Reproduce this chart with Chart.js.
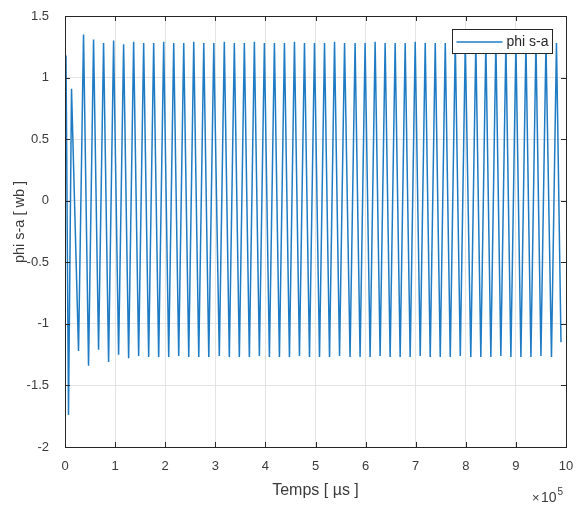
<!DOCTYPE html>
<html><head><meta charset="utf-8">
<script src="https://cdn.jsdelivr.net/npm/chart.js@4/dist/chart.umd.min.js"></script>
<style>html,body{margin:0;padding:0;background:#fff}#wrap{width:576px;height:506px}</style>
</head><body><div id="wrap"><canvas id="c" width="576" height="506"></canvas></div>
<script>
// ---- data (x in units of 1e5 µs, y in Wb) ----
const seriesLabel = 'phi s-a';
const xTitle = 'Temps [ \u00b5s ]';
const yTitle = 'phi s-a [ wb ]';
const xExponentSign = '\u00d7';
const xExponentBase = '10';
const xExponent = '5';
const xTickValues = [0,1,2,3,4,5,6,7,8,9,10];
const xTickLabels = ['0','1','2','3','4','5','6','7','8','9','10'];
const yTickValues = [-2,-1.5,-1,-0.5,0,0.5,1,1.5];
const yTickLabels = ['-2','-1.5','-1','-0.5','0','0.5','1','1.5'];

// start-up transient
const startTimes  = [0, 0.02, 0.07, 0.13];
const startValues = [0, 1.18, -1.74, 0.91];

// troughs and peaks of the steady oscillation
const troughTimes = [
 0.27,0.47,0.67,0.87,1.07,1.27,1.47,1.67,1.87,2.07,2.27,2.47,
 2.67,2.87,3.08,3.28,3.48,3.68,3.88,4.08,4.28,4.48,4.68,4.88,
 5.08,5.28,5.48,5.69,5.89,6.09,6.29,6.49,6.69,6.89,7.09,7.29,
 7.49,7.69,7.89,8.10,8.30,8.50,8.70,8.90,9.10,9.30,9.50,9.71];
const troughValues = [
 -1.22,-1.34,-1.21,-1.31,-1.25,-1.28,-1.26,-1.27,-1.27,-1.27,-1.26,-1.27,
 -1.27,-1.27,-1.26,-1.27,-1.27,-1.27,-1.26,-1.27,-1.27,-1.27,-1.26,-1.27,
 -1.27,-1.27,-1.26,-1.27,-1.27,-1.27,-1.26,-1.27,-1.27,-1.27,-1.26,-1.27,
 -1.27,-1.27,-1.26,-1.27,-1.27,-1.27,-1.26,-1.27,-1.27,-1.27,-1.26,-1.27];
const peakTimes = [
 0.37,0.57,0.77,0.97,1.17,1.37,1.57,1.77,1.97,2.17,2.37,2.57,
 2.77,2.97,3.18,3.38,3.58,3.78,3.98,4.18,4.38,4.58,4.78,4.98,
 5.18,5.38,5.58,5.79,5.99,6.19,6.39,6.59,6.79,6.99,7.19,7.39,
 7.59,7.79,7.99,8.20,8.40,8.60,8.80,9.00,9.20,9.40,9.60,9.81];
const peakValues = [
 1.35,1.31,1.28,1.30,1.27,1.29,1.28,1.28,1.29,1.28,1.28,1.29,
 1.28,1.28,1.29,1.28,1.28,1.29,1.28,1.28,1.28,1.29,1.28,1.28,
 1.28,1.29,1.28,1.28,1.28,1.29,1.28,1.28,1.28,1.29,1.28,1.28,
 1.28,1.29,1.28,1.28,1.28,1.29,1.28,1.28,1.28,1.29,1.28,1.28];

// last sample
const endTimes  = [9.90];
const endValues = [-1.15];

// ---- build the point list ----
const points = [];
startTimes.forEach((t,i)=>points.push({x:t,y:startValues[i]}));
troughTimes.forEach((t,i)=>{
  points.push({x:t,y:troughValues[i]});
  points.push({x:peakTimes[i],y:peakValues[i]});
});
endTimes.forEach((t,i)=>points.push({x:t,y:endValues[i]}));

const FONT = "'Liberation Sans', Arial, Helvetica, sans-serif";
const TEXT = '#3a3a3a';
const AXIS = '#262626';
const LINE = '#1f7cc4';

const decorPlugin = {
  id:'decor',
  afterDatasetsDraw(chart){
    const {ctx, chartArea:a, scales:{x,y}} = chart;
    ctx.save();
    // inward ticks
    ctx.strokeStyle = AXIS; ctx.lineWidth = 1;
    ctx.beginPath();
    xTickValues.forEach(v=>{
      const px = Math.round(x.getPixelForValue(v))+0.5;
      ctx.moveTo(px,a.bottom); ctx.lineTo(px,a.bottom-5);
      ctx.moveTo(px,a.top); ctx.lineTo(px,a.top+5);
    });
    yTickValues.forEach(v=>{
      const py = Math.round(y.getPixelForValue(v))+0.5;
      ctx.moveTo(a.left,py); ctx.lineTo(a.left+5,py);
      ctx.moveTo(a.right,py); ctx.lineTo(a.right-5,py);
    });
    ctx.stroke();
    // box
    ctx.strokeRect(Math.round(a.left)+0.5, Math.round(a.top)+0.5,
                   Math.round(a.right-a.left), Math.round(a.bottom-a.top));
    // legend
    const lx = Math.round(a.right)-113.5, ly = Math.round(a.top)+13.5, lw=100, lh=24;
    ctx.fillStyle='#ffffff'; ctx.fillRect(lx,ly,lw,lh);
    ctx.strokeStyle=AXIS; ctx.strokeRect(lx,ly,lw,lh);
    ctx.strokeStyle=LINE; ctx.lineWidth=1.3;
    ctx.beginPath(); ctx.moveTo(lx+4,ly+12.5); ctx.lineTo(lx+50,ly+12.5); ctx.stroke();
    ctx.fillStyle='#262626'; ctx.font='14px '+FONT;
    ctx.textBaseline='middle'; ctx.textAlign='left';
    ctx.fillText(seriesLabel, lx+54, ly+12.5);
    ctx.restore();
  },
  afterDraw(chart){
    const {ctx} = chart;
    ctx.save();
    ctx.fillStyle=TEXT; ctx.textBaseline='alphabetic'; ctx.textAlign='left';
    // x exponent
    ctx.font='13px '+FONT;
    ctx.fillText(xExponentSign, 532, 502);
    ctx.font='14px '+FONT;
    ctx.fillText(xExponentBase, 541, 502);
    ctx.font='10px '+FONT;
    ctx.fillText(xExponent, 557.5, 495);
    // y title
    ctx.translate(20, 222);
    ctx.rotate(-Math.PI/2);
    ctx.textAlign='center'; ctx.textBaseline='middle';
    ctx.font='14.5px '+FONT;
    ctx.fillText(yTitle, 0, 0);
    ctx.restore();
  }
};

new Chart(document.getElementById('c'), {
  type:'line',
  data:{datasets:[{
    label: seriesLabel,
    data: points,
    borderColor: LINE,
    borderWidth: 1.5,
    pointRadius: 0,
    tension: 0,
    fill: false
  }]},
  options:{
    responsive:false,
    animation:false,
    devicePixelRatio:1,
    parsing:false,
    layout:{padding:{left:0,right:10,top:16,bottom:0}},
    plugins:{legend:{display:false}, tooltip:{enabled:false}},
    scales:{
      x:{
        type:'linear', min:0, max:10,
        afterFit(s){ s.height = 59; s.paddingLeft = 0; s.paddingRight = 0; },
        ticks:{stepSize:1, autoSkip:false, maxRotation:0, padding:12,
          color:TEXT, font:{family:FONT,size:13},
          callback:(v)=>{const i=xTickValues.indexOf(v); return i>=0?xTickLabels[i]:'';}},
        grid:{color:'#e4e4e4', drawTicks:false, lineWidth:1},
        border:{display:false},
        title:{display:true, text:xTitle, color:TEXT,
          font:{family:FONT,size:16}, padding:{top:0,bottom:6}}
      },
      y:{
        type:'linear', min:-2, max:1.5,
        afterFit(s){ s.width = 65; s.paddingTop = 0; s.paddingBottom = 0; },
        ticks:{stepSize:0.5, autoSkip:false, padding:16,
          color:TEXT, font:{family:FONT,size:13},
          callback:(v)=>{const i=yTickValues.indexOf(v); return i>=0?yTickLabels[i]:'';}},
        grid:{color:'#e4e4e4', drawTicks:false, lineWidth:1},
        border:{display:false},
        title:{display:false}
      }
    }
  },
  plugins:[decorPlugin]
});
</script>
</body></html>
